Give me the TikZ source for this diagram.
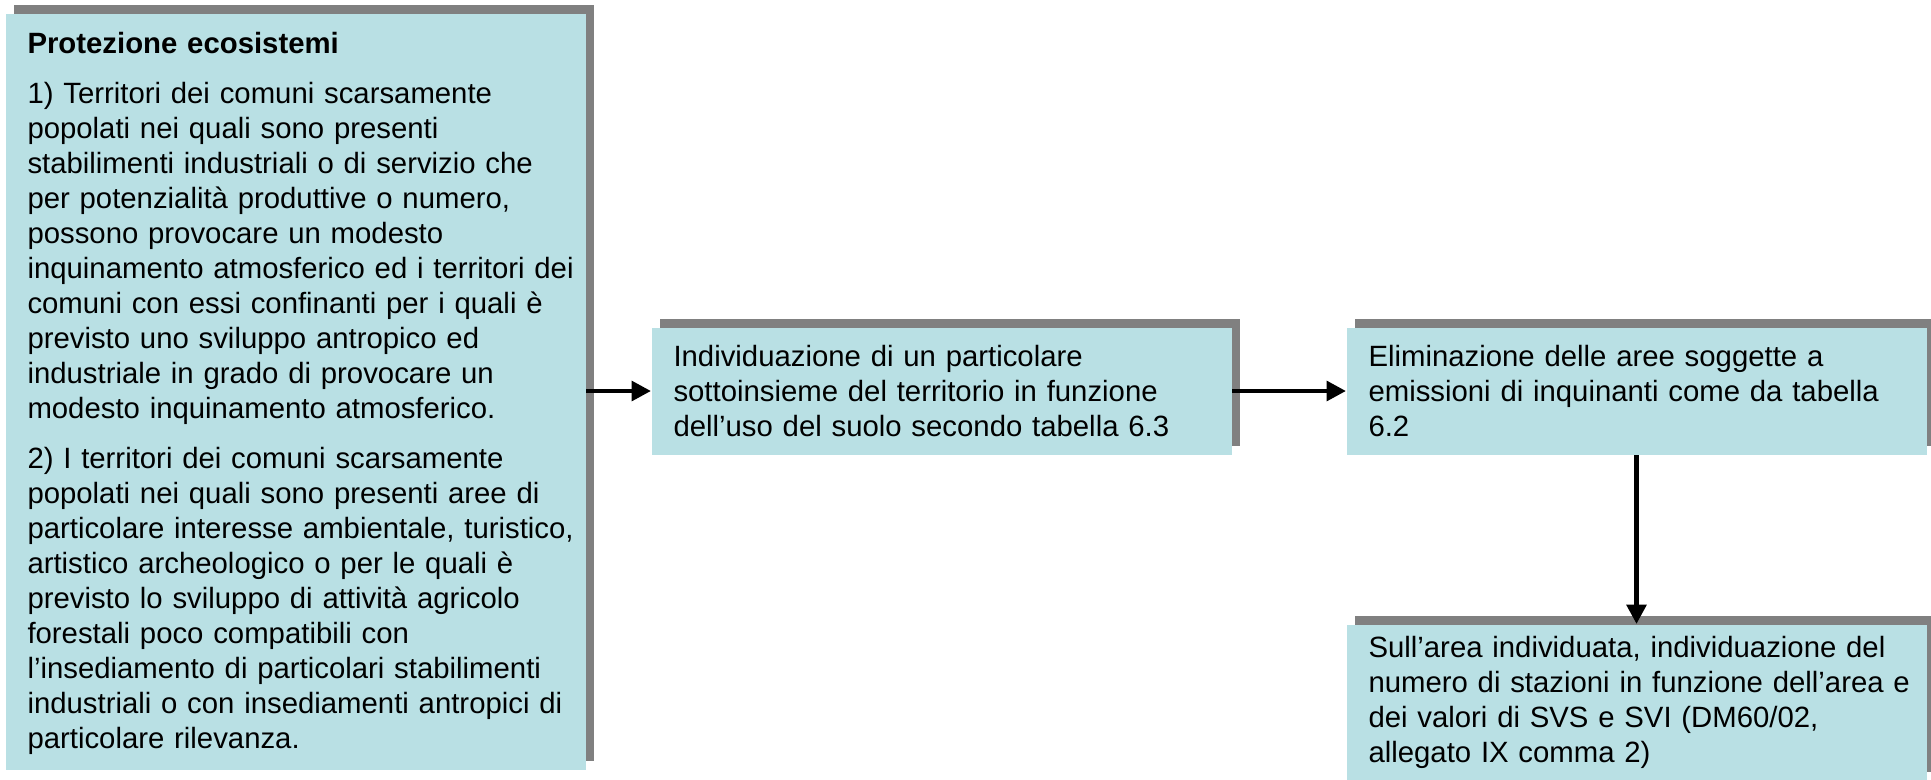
\documentclass[tikz,border=0pt]{standalone}
\usepackage{fontspec}
\setmainfont{Liberation Sans}
\usetikzlibrary{arrows.meta,shadows}

\definecolor{boxfill}{RGB}{185,224,228}
\definecolor{shadowgrey}{RGB}{128,128,128}

\tikzset{every picture/.style={line width=0.75pt}}
\tikzset{
  stepbox/.style={fill=boxfill, draw=none, anchor=north west, align=left,
    text width=431pt, inner xsep=2pt, inner ysep=0pt, minimum width=435pt,
    font=\fontsize{22}{26.25}\selectfont,
    execute at begin node={\leftskip=14.5pt\relax},
    drop shadow={shadow xshift=6pt, shadow yshift=6.75pt, fill=shadowgrey, opacity=1}},
  flow/.style={line width=3.5pt, -{Triangle[length=14.5pt,width=14.5pt]}}
}

\begin{document}
\begin{tikzpicture}[x=0.75pt,y=0.75pt,yscale=-1,xscale=1]
\useasboundingbox (0,0) rectangle (1931,779);

% Text Node
\node [stepbox, minimum height=567pt, text height=19pt] (prot) at (5,13) {\textbf{Protezione ecosistemi}\\[11.25pt]
1) Territori dei comuni scarsamente\\
popolati nei quali sono presenti\\
stabilimenti industriali o di servizio che\\
per potenzialità produttive o numero,\\
possono provocare un modesto\\
inquinamento atmosferico ed i territori dei\\
comuni con essi confinanti per i quali è\\
previsto uno sviluppo antropico ed\\
industriale in grado di provocare un\\
modesto inquinamento atmosferico.\\[11.25pt]
2) I territori dei comuni scarsamente\\
popolati nei quali sono presenti aree di\\
particolare interesse ambientale, turistico,\\
artistico archeologico o per le quali è\\
previsto lo sviluppo di attività agricolo\\
forestali poco compatibili con\\
l’insediamento di particolari stabilimenti\\
industriali o con insediamenti antropici di\\
particolare rilevanza.};
% Text Node
\node [stepbox, minimum height=95.25pt] (indiv) at (651,327) {Individuazione di un particolare\\
sottoinsieme del territorio in funzione\\
dell’uso del suolo secondo tabella 6.3};
% Text Node
\node [stepbox, minimum height=95.25pt] (elim) at (1346,327) {Eliminazione delle aree soggette a\\
emissioni di inquinanti come da tabella\\
6.2};
% Text Node
\node [stepbox, minimum height=117pt] (staz) at (1346,624) {Sull’area individuata, individuazione del\\
numero di stazioni in funzione dell’area e\\
dei valori di SVS e SVI (DM60/02,\\
allegato IX comma 2)};

%Straight Lines
\draw [flow] (prot.east |- indiv.west) -- (indiv.west);
\draw [flow] (indiv.east) -- (elim.west);
\draw [flow] (elim.south) -- (staz.north);

\end{tikzpicture}
\end{document}
